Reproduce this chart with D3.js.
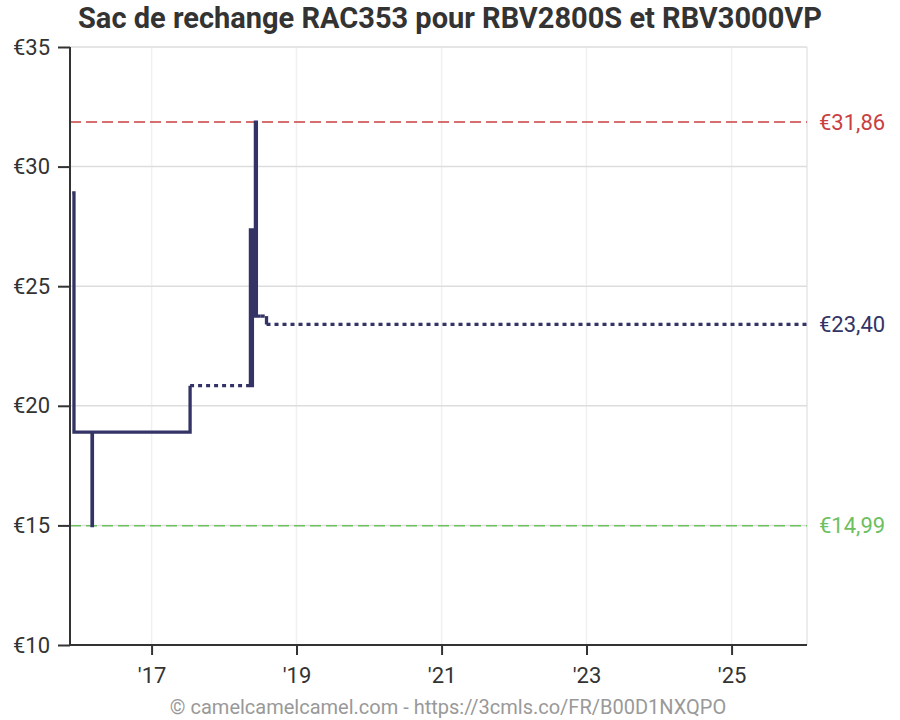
<!DOCTYPE html>
<html>
<head>
<meta charset="utf-8">
<script src="https://cdn.jsdelivr.net/npm/d3@7"></script>
<style>
  body { margin: 0; background: #fff; }
  text { font-family: Roboto, "Noto Sans", sans-serif; }
</style>
</head>
<body>
<div id="chart"></div>
<script>
const WIDTH = 900;
const HEIGHT = 720;
const LEFT = 70, RIGHT = 807, TOP = 47, BOTTOM = 645;

const TITLE = "Sac de rechange RAC353 pour RBV2800S et RBV3000VP";
const FOOTER = "© camelcamelcamel.com - https://3cmls.co/FR/B00D1NXQPO";

// price history (step after), dotted = segment after this point has no data
const priceDates = ["2015-11-28", "2015-12-07", "2016-03-07", "2016-03-09", "2017-07-14",
    "2018-05-14", "2018-05-19", "2018-05-24", "2018-05-30", "2018-06-08", "2018-06-13",
    "2018-07-05", "2018-08-03", "2026-01-16"];
const prices = [28.9, 18.9, 14.99, 18.9, 20.84,
    27.35, 20.84, 27.35, 23.75, 31.86, 23.75,
    23.75, 23.40, 23.40];
const dotted = [false, false, false, false, true,
    false, false, false, false, false, false,
    true, true, true];

const xDomain = ["2015-11-17", "2026-01-16"];
const yTicks = [10, 15, 20, 25, 30, 35];
const xTicks = ["2017-01-01", "2019-01-01", "2021-01-01", "2023-01-01", "2025-01-01"];

const refLines = [
    { value: 31.86, label: "€31,86", color: "#c9403f" },
    { value: 14.99, label: "€14,99", color: "#6dbf5f" }
];
const currentPrice = { value: 23.40, label: "€23,40", color: "#333366" };

var parse = d3.timeParse("%Y-%m-%d");

var x = d3.scaleTime()
    .domain(xDomain.map(parse))
    .range([LEFT, RIGHT]);

var y = d3.scaleLinear()
    .domain([10, 35])
    .range([BOTTOM, TOP]);

var svg = d3.select("#chart").append("svg")
    .attr("width", WIDTH)
    .attr("height", HEIGHT);

// title
svg.append("text")
    .attr("x", 450).attr("y", 28)
    .attr("text-anchor", "middle")
    .attr("font-size", 29).attr("font-weight", "bold")
    .attr("fill", "#333")
    .text(TITLE);

// vertical grid
svg.append("g").selectAll("line")
    .data(xTicks.map(parse))
    .enter().append("line")
    .attr("x1", function (d) { return x(d); })
    .attr("x2", function (d) { return x(d); })
    .attr("y1", TOP).attr("y2", BOTTOM)
    .attr("stroke", "#f0f0f0").attr("stroke-width", 1.5);

svg.append("line")
    .attr("x1", RIGHT).attr("x2", RIGHT)
    .attr("y1", TOP).attr("y2", BOTTOM)
    .attr("stroke", "#e6e6e6").attr("stroke-width", 1.5);

// horizontal grid
svg.append("g").selectAll("line")
    .data(yTicks.filter(function (d) { return d > 10; }))
    .enter().append("line")
    .attr("x1", LEFT).attr("x2", RIGHT)
    .attr("y1", function (d) { return y(d); })
    .attr("y2", function (d) { return y(d); })
    .attr("stroke", "#dddddd").attr("stroke-width", 1.5);

// reference lines
svg.append("g").selectAll("line")
    .data(refLines)
    .enter().append("line")
    .attr("x1", LEFT).attr("x2", RIGHT)
    .attr("y1", function (d) { return y(d.value); })
    .attr("y2", function (d) { return y(d.value); })
    .attr("stroke", function (d) { return d.color; })
    .attr("stroke-width", 1.5)
    .attr("stroke-dasharray", "11,5");

// build runs of solid / dotted pieces
var runs = [];
var cur = null;
var addPoint = function (isDotted, start, end) {
    if (!cur || cur.dotted !== isDotted) {
        cur = { dotted: isDotted, pts: [start] };
        runs.push(cur);
    }
    cur.pts.push(end);
};
for (var i = 0; i < priceDates.length - 1; i++) {
    var d0 = parse(priceDates[i]), d1 = parse(priceDates[i + 1]);
    addPoint(dotted[i], [d0, prices[i]], [d1, prices[i]]);
    if (prices[i + 1] !== prices[i]) {
        addPoint(false, [d1, prices[i]], [d1, prices[i + 1]]);
    }
}

var line = d3.line()
    .x(function (d) { return x(d[0]); })
    .y(function (d) { return y(d[1]); });

svg.append("g").selectAll("path")
    .data(runs)
    .enter().append("path")
    .attr("d", function (d) { return line(d.pts); })
    .attr("fill", "none")
    .attr("stroke", "#333366")
    .attr("stroke-width", 3.3)
    .attr("stroke-linejoin", "miter")
    .attr("stroke-dasharray", function (d) { return d.dotted ? "4,4" : null; });

// axes
var yAxis = d3.axisLeft(y).tickValues(yTicks).tickSize(12).tickPadding(8)
    .tickFormat(function (d) { return "€" + d; });
var xAxis = d3.axisBottom(x).tickValues(xTicks.map(parse)).tickSize(10).tickPadding(12)
    .tickFormat(d3.timeFormat("'%y"));

var gy = svg.append("g")
    .attr("transform", "translate(" + LEFT + ",0)")
    .call(yAxis);
var gx = svg.append("g")
    .attr("transform", "translate(0," + BOTTOM + ")")
    .call(xAxis);

[gx, gy].forEach(function (g) {
    g.select(".domain").attr("stroke", "#333").attr("stroke-width", 2);
    g.selectAll(".tick line").attr("stroke", "#333").attr("stroke-width", 2);
    g.selectAll(".tick text").attr("fill", "#333").attr("font-size", 22)
        .style("font-family", "Roboto, sans-serif");
});
gy.select(".domain").attr("d", "M0," + TOP + "V" + BOTTOM);
gx.select(".domain").attr("d", "M" + LEFT + ",0H" + RIGHT);

// right labels
svg.append("g").selectAll("text")
    .data(refLines.concat([currentPrice]))
    .enter().append("text")
    .attr("x", 819)
    .attr("y", function (d) { return y(d.value); })
    .attr("dy", "0.35em")
    .attr("font-size", 22)
    .attr("fill", function (d) { return d.color; })
    .text(function (d) { return d.label; });

// footer
svg.append("text")
    .attr("x", 448).attr("y", 714)
    .attr("text-anchor", "middle")
    .attr("font-size", 20)
    .attr("fill", "#999")
    .text(FOOTER);
</script>
</body>
</html>
